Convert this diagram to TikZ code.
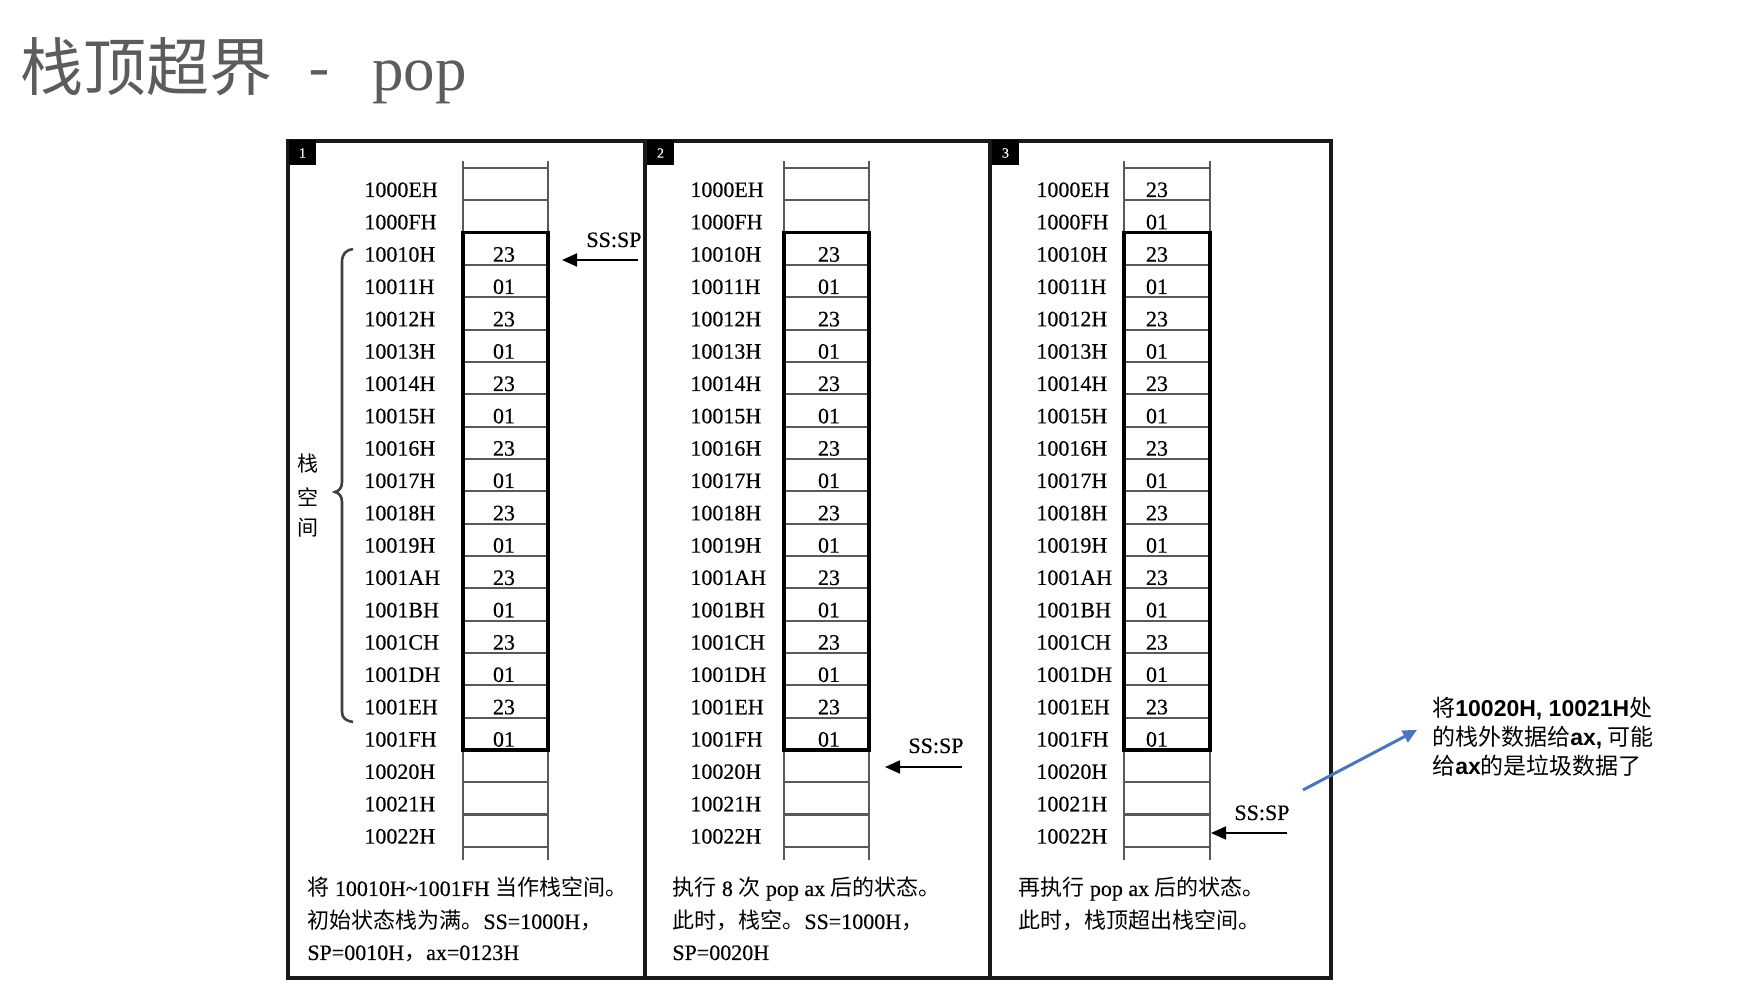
\documentclass[tikz,border=0pt]{standalone}
\usepackage{fontspec}
\setmainfont{Liberation Serif}[FakeBold=0.4]
\newfontfamily\cjk{Noto Sans CJK SC}
\newfontfamily\titlerm{Liberation Serif}
\newfontfamily\lsans{Liberation Sans}
\usetikzlibrary{arrows.meta}
\definecolor{titlegray}{RGB}{92,92,92}
\definecolor{annblue}{RGB}{74,118,190}
\newcommand\zh[1]{{\cjk #1}}
\newcommand\stackpanel[6]{% #1 id, #2 addr x, #3 col L, #4 col R, #5 val x, #6 first value row
  \draw[cellline] (#3,161) -- (#3,860) (#4,161) -- (#4,860);
  \foreach \k in {0,...,21}{\pgfmathsetmacro\yy{168+\k*32.33}\draw[cellline] (#3,\yy) -- (#4,\yy);}
  \foreach \k/\ad in {0/1000EH,1/1000FH,2/10010H,3/10011H,4/10012H,5/10013H,6/10014H,7/10015H,8/10016H,9/10017H,10/10018H,11/10019H,12/1001AH,13/1001BH,14/1001CH,15/1001DH,16/1001EH,17/1001FH,18/10020H,19/10021H,20/10022H}{%
    \pgfmathsetmacro\yy{197+\k*32.33}\node[addr] (a#1-\k) at (#2,\yy) {\ad};}
  \foreach \k in {#6,...,17}{\pgfmathsetmacro\yy{197+\k*32.33}\node[val] (v#1-\k) at (#5,\yy) {\ifodd\k\relax 01\else 23\fi};}
  \draw[stackbox] (#3,232.7) rectangle (#4,750);
}
\begin{document}
\begin{tikzpicture}[x=0.5pt,y=-0.5pt,
  cellline/.style={draw=black!65, line width=1.1pt},
  stackbox/.style={draw=black, line width=1.7pt},
  frameline/.style={draw=black!90, line width=1.6pt},
  addr/.style={anchor=base west, inner sep=0pt, font=\fontsize{11}{13}\selectfont},
  val/.style={anchor=base, inner sep=0pt, font=\fontsize{11}{13}\selectfont},
  captxt/.style={anchor=base west, inner sep=0pt, font=\fontsize{11}{13}\selectfont},
  sptxt/.style={anchor=base, inner sep=0pt, font=\fontsize{11}{13}\selectfont},
  ptr/.style={-{Triangle[length=7.5pt,width=6.5pt]}, line width=0.9pt},
  tag/.style={fill=black, text=white, inner sep=0pt, minimum width=13.5pt, minimum height=12.5pt, font=\fontsize{7}{8}\selectfont},
  anntxt/.style={anchor=base west, inner sep=0pt, font=\cjk\fontsize{11.5}{14}\selectfont},
  annarrow/.style={draw=annblue, line width=1.5pt, -{Triangle[length=7pt,width=6.5pt]}}
]
\useasboundingbox[fill=white] (0,0) rectangle (1752,1004);

% title
\node[anchor=base west, text=titlegray, inner sep=0pt, font=\cjk\fontsize{31.5}{36}\selectfont] (title) at (20,91) {栈顶超界\hspace{18pt}-\hspace{21pt}{\titlerm pop}};

% frame
\draw[frameline] (288,141) rectangle (1331,978);
\draw[frameline] (645,141) -- (645,978);
\draw[frameline] (990,141) -- (990,978);
\node[tag] (t1) at (302.5,153) {1};
\node[tag] (t2) at (660.5,153) {2};
\node[tag] (t3) at (1005.5,153) {3};

% stacks
\stackpanel{1}{364}{463}{548}{504}{2}
\stackpanel{2}{690}{784}{869}{829}{2}
\stackpanel{3}{1036}{1124}{1210}{1157}{0}

% brace and stack label (panel 1)
\draw[draw=black!75, line width=1.3pt] (353,249) .. controls (346,250) and (342,254) .. (342,262) -- (342,482) .. controls (342,488) and (339,491) .. (335,492) .. controls (339,493) and (342,496) .. (342,502) -- (342,712) .. controls (342,718) and (346,721) .. (353,722);
\node[inner sep=0pt, font=\cjk\fontsize{10.5}{12}\selectfont] (z1) at (308,464) {栈};
\node[inner sep=0pt, font=\cjk\fontsize{10.5}{12}\selectfont] (z2) at (308,497) {空};
\node[inner sep=0pt, font=\cjk\fontsize{10.5}{12}\selectfont] (z3) at (308,528) {间};

% SS:SP pointers
\node[sptxt] (sp1) at (614,247) {SS:SP};
\coordinate (p1s) at (638,260); \coordinate (p1e) at (562,260);
\draw[ptr] (p1s) -- (p1e);
\node[sptxt] (sp2) at (936,753) {SS:SP};
\coordinate (p2s) at (962,767); \coordinate (p2e) at (885,767);
\draw[ptr] (p2s) -- (p2e);
\node[sptxt] (sp3) at (1262,820) {SS:SP};
\coordinate (p3s) at (1287,833); \coordinate (p3e) at (1211,833);
\draw[ptr] (p3s) -- (p3e);

% captions
\node[captxt] (c11) at (307,896) {\zh{将} 10010H\textasciitilde 1001FH \zh{当作栈空间。}};
\node[captxt] (c12) at (307,929) {\zh{初始状态栈为满。}SS=1000H\zh{，}};
\node[captxt] (c13) at (307,960) {SP=0010H\zh{，}ax=0123H};
\node[captxt] (c21) at (672,896) {\zh{执行} 8 \zh{次} pop ax \zh{后的状态。}};
\node[captxt] (c22) at (672,929) {\zh{此时，栈空。}SS=1000H\zh{，}};
\node[captxt] (c23) at (672,960) {SP=0020H};
\node[captxt] (c31) at (1018,896) {\zh{再执行} pop ax \zh{后的状态。}};
\node[captxt] (c32) at (1018,929) {\zh{此时，栈顶超出栈空间。}};

% annotation
\node[anntxt] (ann1) at (1432,717) {将{\lsans\bfseries 10020H, 10021H}处};
\node[anntxt] (ann2) at (1432,746) {的栈外数据给{\lsans\bfseries ax,} 可能};
\node[anntxt] (ann3) at (1432,775) {给{\lsans\bfseries ax}的是垃圾数据了};
\coordinate (bs) at (1303,790); \coordinate (be) at (1417,730);
\draw[annarrow] (bs) -- (be);
\end{tikzpicture}
\end{document}
